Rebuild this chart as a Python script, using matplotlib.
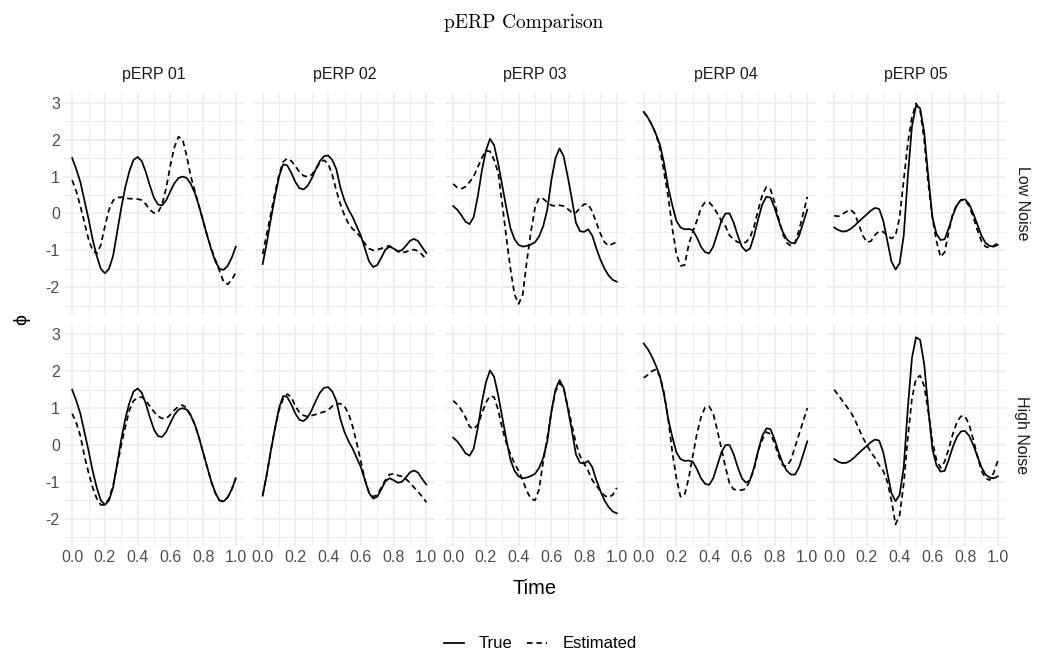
import matplotlib
matplotlib.use("Agg")
import matplotlib.pyplot as plt
from matplotlib.lines import Line2D
from matplotlib.ticker import MultipleLocator, FormatStrFormatter
import numpy as np

# sampling grid (time) shared by all curves
time = [0.0, 0.025, 0.05, 0.075, 0.1, 0.125, 0.15, 0.175, 0.2, 0.225,
        0.25, 0.275, 0.3, 0.325, 0.35, 0.375, 0.4, 0.425, 0.45, 0.475,
        0.5, 0.525, 0.55, 0.575, 0.6, 0.625, 0.65, 0.675, 0.7, 0.725,
        0.75, 0.775, 0.8, 0.825, 0.85, 0.875, 0.9, 0.925, 0.95, 0.975, 1.0]

panels = ["pERP 01", "pERP 02", "pERP 03", "pERP 04", "pERP 05"]
rows = ["Low Noise", "High Noise"]

# true pERPs (same in both noise rows)
true_01 = [1.50, 1.2, 0.85, 0.35, -0.15, -0.7, -1.15, -1.5, -1.62, -1.5,
           -1.15, -0.5, 0.15, 0.72, 1.15, 1.45, 1.53, 1.42, 1.12, 0.75,
           0.42, 0.24, 0.22, 0.36, 0.6, 0.82, 0.96, 1.0, 0.96, 0.8,
           0.55, 0.2, -0.2, -0.6, -0.98, -1.3, -1.5, -1.53, -1.42, -1.2, -0.9]
true_02 = [-1.37, -0.8, -0.15, 0.45, 1.0, 1.33, 1.3, 1.1, 0.85, 0.68,
           0.65, 0.75, 0.95, 1.2, 1.42, 1.55, 1.57, 1.45, 1.2, 0.7,
           0.35, 0.1, -0.1, -0.35, -0.6, -0.95, -1.3, -1.45, -1.4, -1.2,
           -0.98, -0.9, -0.95, -1.02, -1.0, -0.88, -0.74, -0.69, -0.75, -0.92, -1.07]
true_03 = [0.2, 0.1, -0.05, -0.22, -0.29, -0.1, 0.45, 1.15, 1.7, 2.02,
           1.85, 1.35, 0.75, 0.15, -0.4, -0.7, -0.85, -0.9, -0.88, -0.84,
           -0.78, -0.62, -0.35, 0.1, 0.9, 1.5, 1.76, 1.55, 1.0, 0.4,
           -0.25, -0.48, -0.5, -0.43, -0.6, -0.95, -1.25, -1.5, -1.68, -1.8, -1.85]
true_04 = [2.75, 2.6, 2.4, 2.15, 1.85, 1.35, 0.7, 0.22, -0.2, -0.38,
           -0.43, -0.42, -0.45, -0.65, -0.9, -1.05, -1.08, -0.9, -0.55, -0.2,
           0.0, 0.0, -0.25, -0.6, -0.9, -1.02, -0.95, -0.6, -0.15, 0.25,
           0.45, 0.43, 0.15, -0.2, -0.5, -0.7, -0.8, -0.8, -0.6, -0.25, 0.1]
true_05 = [-0.38, -0.45, -0.49, -0.48, -0.42, -0.33, -0.22, -0.12, -0.02, 0.08,
           0.15, 0.12, -0.2, -0.75, -1.3, -1.52, -1.35, -0.6, 1.0, 2.35,
           2.92, 2.85, 2.2, 1.0, -0.1, -0.55, -0.72, -0.7, -0.4, -0.05,
           0.22, 0.37, 0.38, 0.25, 0.0, -0.3, -0.6, -0.8, -0.88, -0.9, -0.85]

# estimates, low noise
est_low_01 = [0.9, 0.6, 0.2, -0.25, -0.7, -1.0, -1.1, -0.85, -0.35, 0.1,
              0.35, 0.43, 0.44, 0.42, 0.4, 0.4, 0.39, 0.36, 0.25, 0.1,
              0.01, 0.03, 0.25, 0.7, 1.3, 1.8, 2.08, 2.0, 1.55, 1.0,
              0.6, 0.2, -0.2, -0.6, -0.95, -1.25, -1.55, -1.85, -1.92, -1.8, -1.6]
est_low_02 = [-1.1, -0.55, 0.0, 0.55, 1.05, 1.4, 1.49, 1.42, 1.28, 1.12,
              1.02, 0.99, 1.05, 1.2, 1.38, 1.44, 1.35, 1.05, 0.62, 0.25,
              -0.05, -0.28, -0.42, -0.52, -0.65, -0.82, -0.95, -1.0, -0.98, -0.95,
              -0.9, -0.88, -0.95, -1.03, -1.07, -1.04, -1.0, -0.98, -1.02, -1.12, -1.25]
est_low_03 = [0.8, 0.7, 0.67, 0.72, 0.85, 1.0, 1.25, 1.5, 1.7, 1.68,
              1.45, 1.1, 0.25, -0.65, -1.5, -2.2, -2.45, -2.2, -1.3, -0.5,
              0.15, 0.42, 0.4, 0.3, 0.22, 0.2, 0.22, 0.2, 0.12, 0.03,
              0.02, 0.15, 0.25, 0.25, 0.05, -0.25, -0.55, -0.78, -0.88, -0.82, -0.78]
est_low_04 = [2.75, 2.6, 2.4, 2.15, 1.75, 1.1, 0.45, -0.4, -1.1, -1.42,
              -1.4, -0.85, -0.5, -0.2, 0.15, 0.3, 0.3, 0.18, 0.0, -0.2,
              -0.35, -0.6, -0.7, -0.78, -0.8, -0.78, -0.65, -0.35, 0.1, 0.5,
              0.72, 0.65, 0.3, -0.15, -0.55, -0.8, -0.88, -0.8, -0.45, 0.0, 0.45]
est_low_05 = [-0.06, -0.08, -0.02, 0.05, 0.1, 0.0, -0.3, -0.6, -0.78, -0.75,
              -0.58, -0.48, -0.5, -0.6, -0.68, -0.6, -0.1, 0.9, 1.9, 2.6,
              2.98, 2.8, 2.0, 0.8, -0.1, -0.75, -1.18, -1.05, -0.5, 0.0,
              0.25, 0.36, 0.35, 0.2, -0.1, -0.45, -0.75, -0.9, -0.93, -0.88, -0.8]

# estimates, high noise
est_high_01 = [0.85, 0.6, 0.25, -0.3, -0.75, -1.15, -1.45, -1.62, -1.62, -1.45,
               -1.1, -0.55, 0.0, 0.5, 0.95, 1.2, 1.28, 1.3, 1.2, 1.05,
               0.9, 0.78, 0.72, 0.72, 0.82, 0.95, 1.05, 1.08, 1.0, 0.8,
               0.55, 0.2, -0.2, -0.6, -1.0, -1.3, -1.5, -1.52, -1.42, -1.2, -0.9]
est_high_02 = [-1.36, -0.8, -0.15, 0.45, 0.95, 1.25, 1.38, 1.3, 1.05, 0.88,
               0.8, 0.77, 0.8, 0.83, 0.87, 0.9, 0.95, 1.05, 1.12, 1.12,
               1.05, 0.85, 0.5, 0.05, -0.45, -0.95, -1.28, -1.4, -1.35, -1.15,
               -0.95, -0.8, -0.78, -0.82, -0.85, -0.92, -1.02, -1.15, -1.27, -1.4, -1.55]
est_high_03 = [1.2, 1.1, 0.95, 0.75, 0.5, 0.43, 0.55, 0.85, 1.15, 1.33,
               1.3, 0.95, 0.45, 0.05, -0.25, -0.5, -0.7, -0.95, -1.25, -1.45,
               -1.5, -1.2, -0.45, 0.2, 0.9, 1.45, 1.68, 1.55, 1.05, 0.55,
               0.05, -0.3, -0.5, -0.7, -0.95, -1.1, -1.25, -1.37, -1.42, -1.35, -1.16]
est_high_04 = [1.82, 1.9, 2.0, 2.05, 1.85, 1.4, 0.7, -0.2, -0.9, -1.4,
               -1.35, -0.9, -0.3, 0.3, 0.75, 1.02, 1.05, 0.85, 0.4, -0.1,
               -0.6, -1.05, -1.2, -1.22, -1.22, -1.18, -0.95, -0.65, -0.15, 0.15,
               0.35, 0.3, 0.05, -0.3, -0.55, -0.58, -0.4, -0.05, 0.3, 0.65, 1.0]
est_high_05 = [1.5, 1.35, 1.2, 1.05, 0.9, 0.7, 0.45, 0.2, 0.0, -0.2,
               -0.35, -0.55, -0.7, -1.0, -1.5, -2.15, -1.9, -1.05, 0.2, 1.25,
               1.8, 1.88, 1.6, 0.9, 0.1, -0.4, -0.62, -0.45, -0.1, 0.3,
               0.62, 0.78, 0.78, 0.55, 0.15, -0.3, -0.7, -0.9, -0.95, -0.75, -0.43]

trues = [true_01, true_02, true_03, true_04, true_05]
est_low = [est_low_01, est_low_02, est_low_03, est_low_04, est_low_05]
est_high = [est_high_01, est_high_02, est_high_03, est_high_04, est_high_05]

plt.rcParams['font.family'] = ['Liberation Sans', 'DejaVu Sans']
plt.rcParams['axes.unicode_minus'] = False

W, H = 1050, 660
fig = plt.figure(figsize=(W / 100, H / 100), dpi=100)

# fixed y scale with ggplot-like 5% expansion
all_vals = np.concatenate([np.ravel(trues), np.ravel(est_low), np.ravel(est_high)])
lo, hi = all_vals.min(), all_vals.max()
pad = 0.05 * (hi - lo)

left0 = 64 / W
pw = 180 / W
step = 190.5 / W
row_tops = [93.4, 325.0]
ph_px = 220.5

grid_col = '#EBEBEB'
lw = 1.25
dash = (0, (3.2, 2.2))

for r, est_set in enumerate([est_low, est_high]):
    for c in range(5):
        ax = fig.add_axes([left0 + c * step, 1 - (row_tops[r] + ph_px) / H, pw, ph_px / H])
        ax.plot(time, trues[c], color='black', lw=lw)
        ax.plot(time, est_set[c], color='black', lw=lw, linestyle=dash)
        ax.set_xlim(-0.05, 1.05)
        ax.set_ylim(lo - pad, hi + pad)
        ax.xaxis.set_major_locator(MultipleLocator(0.2))
        ax.xaxis.set_minor_locator(MultipleLocator(0.1))
        ax.yaxis.set_major_locator(MultipleLocator(1))
        ax.yaxis.set_minor_locator(MultipleLocator(0.5))
        ax.xaxis.set_major_formatter(FormatStrFormatter('%.1f'))
        ax.grid(which='major', color=grid_col, lw=1.2)
        ax.grid(which='minor', color=grid_col, lw=0.7)
        ax.set_axisbelow(True)
        for s in ax.spines.values():
            s.set_visible(False)
        ax.tick_params(which='both', length=0, labelsize=11.5,
                       labelcolor='#4D4D4D', pad=3)
        if c > 0:
            ax.tick_params(labelleft=False)
        if r == 0:
            ax.tick_params(labelbottom=False)
            ax.text(0.5, 1 + 19 / ph_px, panels[c], transform=ax.transAxes,
                    ha='center', va='center', fontsize=11.5, color='#1A1A1A')
        if c == 4:
            ax.text(1 + 16 / 180, 0.5, rows[r], transform=ax.transAxes,
                    rotation=-90, ha='center', va='center', fontsize=11.5,
                    color='#1A1A1A')

fig.text(0.499, 1 - 23 / H, 'pERP Comparison', fontfamily='cmr10',
         fontsize=14, ha='center', va='center')
fig.text(534.5 / W, 1 - 588 / H, 'Time', fontsize=14.5, ha='center', va='center')
fig.text(22 / W, 1 - 320 / H, '\u03d5', fontsize=14, rotation=90,
         ha='center', va='center')

handles = [Line2D([], [], color='black', lw=lw),
           Line2D([], [], color='black', lw=lw, linestyle=dash)]
fig.legend(handles, ['True', 'Estimated'], loc='center',
           bbox_to_anchor=(540 / W, 1 - 644 / H), ncol=2, frameon=False,
           fontsize=12, handlelength=1.2, handletextpad=0.9, columnspacing=0.9)

fig.savefig('out.png', dpi=100)
